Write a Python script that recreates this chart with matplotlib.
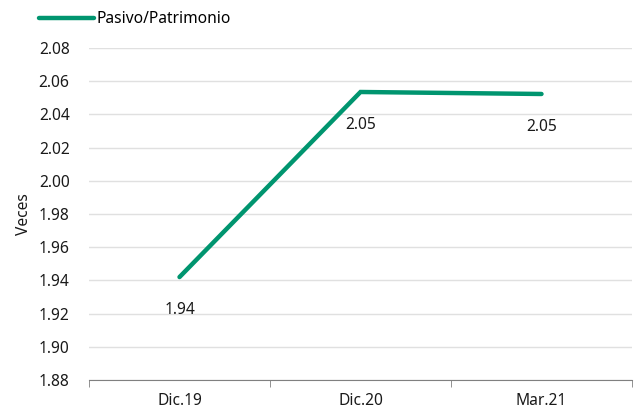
import numpy as np
import matplotlib.pyplot as plt

plt.rcParams['font.family'] = ['Noto Sans', 'DejaVu Sans']

categories = ["Dic.19", "Dic.20", "Mar.21"]
values = [1.942, 2.0535, 2.0523]
labels = ["1.94", "2.05", "2.05"]
yticks = [1.88, 1.90, 1.92, 1.94, 1.96, 1.98, 2.00, 2.02, 2.04, 2.06, 2.08]

green = "#00956f"
fs = 11.2

fig = plt.figure(figsize=(6.36, 4.11), dpi=100)
ax = fig.add_axes([89 / 636, 1 - 380 / 411, (632 - 89) / 636, (380 - 48) / 411])

x = np.arange(len(categories))
line, = ax.plot(x, values, color=green, lw=3.2, solid_joinstyle="miter",
                solid_capstyle="round", label="Pasivo/Patrimonio")

for xi, v, t in zip(x, values, labels):
    ax.annotate(t, (xi, v), xytext=(0, -24), textcoords="offset points",
                ha="center", va="center", fontsize=fs, color="#1a1a1a")

ax.set_xlim(-0.5, len(categories) - 0.5)
ax.set_ylim(1.88, 2.08)
ax.set_yticks(yticks)
ax.set_yticklabels([f"{t:.2f}" for t in yticks])
ax.set_xticks(x)
ax.set_xticklabels(categories)
ax.set_xticks(np.arange(len(categories) + 1) - 0.5, minor=True)

ax.grid(axis="y", color="#e0e0e0", lw=1)
ax.set_axisbelow(True)
for s in ["top", "right", "left"]:
    ax.spines[s].set_visible(False)
ax.spines["bottom"].set_color("#808080")
ax.tick_params(axis="y", length=0, labelsize=fs, pad=14, colors="#1a1a1a")
ax.tick_params(axis="x", which="major", length=0, labelsize=fs, pad=9, colors="#1a1a1a")
ax.tick_params(axis="x", which="minor", length=5, color="#808080")

ax.set_ylabel("Veces", fontsize=fs, color="#1a1a1a", labelpad=5)

fig.legend(handles=[line], loc="upper left", bbox_to_anchor=(33 / 636, 1 - 5 / 411),
           frameon=False, fontsize=fs, handlelength=3.5, handletextpad=0.15,
           borderaxespad=0)

fig.savefig("out.png", dpi=100)
